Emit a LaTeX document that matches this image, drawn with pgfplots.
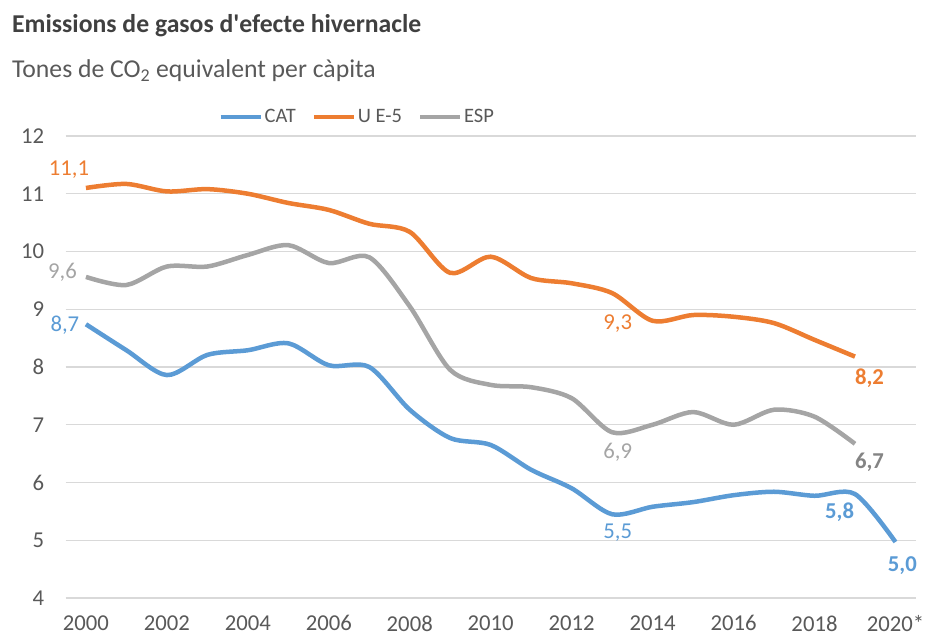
\documentclass[border=0pt]{standalone}
\usepackage{pgfplots}
\pgfplotsset{compat=1.18}
\usepackage{fontspec}
\setmainfont{Carlito}
\definecolor{cat}{HTML}{5B9BD5}
\definecolor{ue}{HTML}{ED7D31}
\definecolor{esp}{HTML}{A5A5A5}
\definecolor{txt}{HTML}{595959}
\definecolor{ttl}{HTML}{404040}
\definecolor{grd}{HTML}{D9D9D9}
\begin{document}
\begin{tikzpicture}
\useasboundingbox (0pt,0pt) rectangle (927pt,638pt);
\node[anchor=base west, inner sep=0, text=ttl, font=\fontsize{25.7}{30}\selectfont\bfseries] at (12pt,605pt) {Emissions de gasos d\textquotesingle efecte hivernacle};
\node[anchor=base west, inner sep=0, text=txt, font=\fontsize{25.7}{30}\selectfont] at (12pt,560pt) {Tones de CO\textsubscript{2} equivalent per càpita};
\begin{axis}[
  at={(65.7pt,40pt)}, anchor=south west,
  scale only axis, width=850pt, height=462pt,
  xmin=1999.5, xmax=2020.5, ymin=4, ymax=12,
  clip=false,
  axis line style={draw=none},
  major tick length=0pt,
  ymajorgrids, grid style={grd, line width=1.2pt},
  xtick={2000,2002,...,2020},
  xticklabels={2000,2002,2004,2006,2008,2010,2012,2014,2016,2018,2020*},
  ytick={4,5,...,12},
  yticklabels={4,5,6,7,8,9,10,11,12},
  ticklabel style={font=\fontsize{22.7}{26}\selectfont, text=txt},
  yticklabel style={xshift=-18pt},
  xticklabel style={yshift=-14pt},
  legend columns=3,
  legend style={at={(0.343,1.041)}, anchor=center, draw=none, fill=none,
    font=\fontsize{20.5}{24}\selectfont, text=txt,
    /tikz/every even column/.append style={column sep=14pt}},
  legend image code/.code={\draw[#1, line width=4pt] (0pt,0pt) -- (40pt,0pt);},
]
\addplot[cat, line width=4.5pt, smooth] coordinates {
(2000,8.74) (2001,8.29) (2002,7.86) (2003,8.21) (2004,8.29) (2005,8.41) (2006,8.03) (2007,8.0) (2008,7.26) (2009,6.77) (2010,6.65) (2011,6.22) (2012,5.9) (2013,5.45) (2014,5.58) (2015,5.66) (2016,5.78) (2017,5.84) (2018,5.77) (2019,5.8) (2020,4.97)};
\addlegendentry{CAT}
\addplot[ue, line width=4.5pt, smooth] coordinates {
(2000,11.10) (2001,11.17) (2002,11.04) (2003,11.08) (2004,11.0) (2005,10.84) (2006,10.72) (2007,10.48) (2008,10.34) (2009,9.63) (2010,9.91) (2011,9.54) (2012,9.45) (2013,9.28) (2014,8.80) (2015,8.90) (2016,8.87) (2017,8.76) (2018,8.47) (2019,8.18)};
\addlegendentry{U E-5}
\addplot[esp, line width=4.5pt, smooth] coordinates {
(2000,9.56) (2001,9.42) (2002,9.74) (2003,9.74) (2004,9.94) (2005,10.11) (2006,9.8) (2007,9.9) (2008,9.05) (2009,7.95) (2010,7.69) (2011,7.65) (2012,7.46) (2013,6.87) (2014,7.0) (2015,7.22) (2016,7.0) (2017,7.26) (2018,7.14) (2019,6.67)};
\addlegendentry{ESP}
\begin{scope}[every node/.style={font=\fontsize{22.7}{26}\selectfont, inner sep=0}]
\node[text=ue] at (axis cs:1999.58,11.41) {11,1};
\node[text=esp] at (axis cs:1999.42,9.645) {9,6};
\node[text=cat] at (axis cs:1999.48,8.73) {8,7};
\node[text=ue] at (axis cs:2013.14,8.76) {9,3};
\node[text=ue, font=\fontsize{22.7}{26}\selectfont\bfseries] at (axis cs:2019.36,7.81) {8,2};
\node[text=esp] at (axis cs:2013.14,6.53) {6,9};
\node[text=esp!80!black, font=\fontsize{22.7}{26}\selectfont\bfseries] at (axis cs:2019.36,6.355) {6,7};
\node[text=cat] at (axis cs:2013.14,5.125) {5,5};
\node[text=cat, font=\fontsize{22.7}{26}\selectfont\bfseries] at (axis cs:2018.62,5.49) {5,8};
\node[text=cat, font=\fontsize{22.7}{26}\selectfont\bfseries] at (axis cs:2020.17,4.555) {5,0};
\end{scope}
\end{axis}
\end{tikzpicture}
\end{document}
